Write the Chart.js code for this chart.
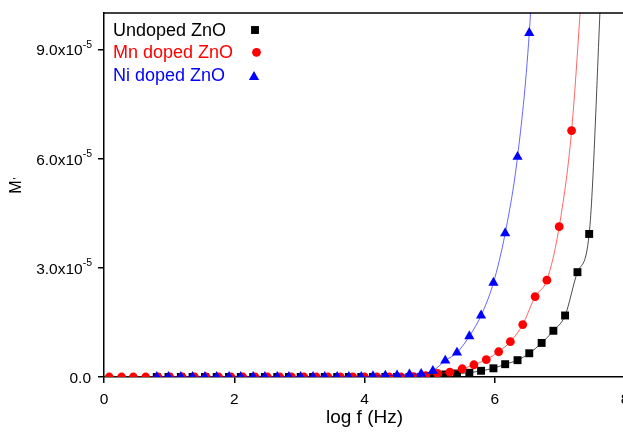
<!DOCTYPE html>
<html>
<head>
<meta charset="utf-8">
<script src="https://cdn.jsdelivr.net/npm/chart.js@4.4.0/dist/chart.umd.min.js"></script>
<style>
  html, body { margin: 0; padding: 0; background: #fff; overflow: hidden; }
  #wrap { width: 640px; height: 433px; }
</style>
</head>
<body>
<div id="wrap"><canvas id="chart" width="640" height="433"></canvas></div>
<script>
const FONT = "'Liberation Sans', Arial, sans-serif";

const seriesNames = ["Undoped ZnO", "Mn doped ZnO", "Ni doped ZnO"];
const markerColors = ["#000000", "#ff0000", "#0000ff"];
const lineColors = ["rgba(0,0,0,0.7)", "rgba(255,0,0,0.6)", "rgba(0,0,255,0.6)"];
const markerStyles = ["rect", "circle", "triangle"];

const xTicks = [0, 2, 4, 6, 8];
const yTicks = [0, 3e-5, 6e-5, 9e-5];

// undoped ZnO
const logfUndoped = [0.81, 0.99, 1.18, 1.36, 1.55, 1.73, 1.92, 2.10, 2.29, 2.47, 2.66, 2.84, 3.02,
  3.21, 3.39, 3.58, 3.76, 3.95, 4.13, 4.32, 4.50, 4.69, 4.87, 5.05, 5.24, 5.42, 5.61, 5.79,
  5.98, 6.16, 6.35, 6.53, 6.72, 6.90, 7.08, 7.27, 7.45, 7.64];
const mUndoped = [0, 0, 0, 0, 0, 0, 0, 0, 0, 0, 0, 0, 0,
  0, 0, 0, 0, 0, 0, 0, 0, 0, 0, 0.30e-6, 0.70e-6, 0.96e-6, 1.16e-6, 1.71e-6,
  2.39e-6, 3.52e-6, 4.62e-6, 6.52e-6, 9.36e-6, 1.27e-5, 1.69e-5, 2.88e-5, 3.93e-5, 1.10e-4];

// Mn doped ZnO
const logfMn = [0.08, 0.27, 0.45, 0.64, 0.83, 1.01, 1.20, 1.39, 1.57, 1.76, 1.95, 2.13, 2.32,
  2.51, 2.70, 2.88, 3.07, 3.26, 3.44, 3.63, 3.82, 4.00, 4.19, 4.38, 4.56, 4.75, 4.94, 5.12,
  5.31, 5.50, 5.68, 5.87, 6.06, 6.24, 6.43, 6.62, 6.80, 6.99, 7.18, 7.37];
const mMn = [0, 0, 0, 0, 0, 0, 0, 0, 0, 0, 0, 0, 0,
  0, 0, 0, 0, 0, 0, 0, 0, 0, 0, 0, 0, 0.10e-6, 0.40e-6, 1.00e-6,
  1.32e-6, 2.26e-6, 3.36e-6, 4.79e-6, 6.94e-6, 9.71e-6, 1.44e-5, 2.21e-5, 2.66e-5, 4.13e-5, 6.77e-5, 1.16e-4];

// Ni doped ZnO
const logfNi = [0.81, 0.99, 1.18, 1.36, 1.55, 1.73, 1.92, 2.10, 2.29, 2.47, 2.66, 2.84, 3.02,
  3.21, 3.39, 3.58, 3.76, 3.95, 4.13, 4.32, 4.50, 4.69, 4.87, 5.05, 5.24, 5.42, 5.61, 5.79,
  5.98, 6.16, 6.35, 6.53, 6.72];
const mNi = [0, 0, 0, 0, 0, 0, 0, 0, 0, 0, 0, 0, 0,
  0, 0, 0, 0, 0, 0.20e-6, 0.39e-6, 0.47e-6, 0.74e-6, 0.88e-6, 1.70e-6, 4.50e-6, 6.70e-6, 1.12e-5, 1.69e-5,
  2.59e-5, 3.95e-5, 6.05e-5, 9.45e-5, 1.60e-4];

const xs = [logfUndoped, logfMn, logfNi];
const ys = [mUndoped, mMn, mNi];
const radii = [5.6, 4.4, 5.9];

function drawMarker(ctx, style, x, y, r, color) {
  ctx.save();
  ctx.fillStyle = color;
  ctx.beginPath();
  if (style === "rect") {
    const s = Math.SQRT1_2 * r;
    ctx.rect(x - s, y - s, 2 * s, 2 * s);
  } else if (style === "circle") {
    ctx.arc(x, y, r, 0, Math.PI * 2);
  } else {
    let a = 0;
    ctx.moveTo(x + Math.sin(a) * r, y - Math.cos(a) * r);
    a += Math.PI * 2 / 3;
    ctx.lineTo(x + Math.sin(a) * r, y - Math.cos(a) * r);
    a += Math.PI * 2 / 3;
    ctx.lineTo(x + Math.sin(a) * r, y - Math.cos(a) * r);
    ctx.closePath();
  }
  ctx.fill();
  ctx.restore();
}

const decorations = {
  id: "decorations",
  afterDraw(chart) {
    const ctx = chart.ctx;
    const area = chart.chartArea;
    const xs_ = chart.scales.x, ys_ = chart.scales.y;
    ctx.save();

    // top frame line
    ctx.strokeStyle = "#000";
    ctx.lineWidth = 1.5;
    ctx.beginPath();
    ctx.moveTo(area.left, area.top);
    ctx.lineTo(area.right + 1, area.top);
    ctx.stroke();

    ctx.fillStyle = "#000";
    // y tick labels with superscript exponent
    yTicks.forEach(v => {
      const y = ys_.getPixelForValue(v);
      ctx.textAlign = "right";
      ctx.textBaseline = "alphabetic";
      if (v === 0) {
        ctx.font = "15.5px " + FONT;
        ctx.fillText("0.0", 91, y + 6);
      } else {
        ctx.font = "10.5px " + FONT;
        const sup = "-5";
        const supW = ctx.measureText(sup).width;
        ctx.fillText(sup, 92, y - 1.5);
        ctx.font = "15.5px " + FONT;
        ctx.fillText((v / 1e-5).toFixed(1) + "x10", 92 - supW, y + 6);
      }
    });

    // x tick labels
    ctx.font = "15.5px " + FONT;
    ctx.textAlign = "center";
    xTicks.forEach(v => {
      ctx.fillText(String(v), xs_.getPixelForValue(v), 403.5);
    });

    // axis titles
    ctx.font = "19px " + FONT;
    ctx.fillText("log f (Hz)", (area.left + 625) / 2, 423);

    ctx.save();
    ctx.translate(20.5, 187);
    ctx.rotate(-Math.PI / 2);
    ctx.font = "16px " + FONT;
    ctx.textAlign = "center";
    ctx.fillText("M", 0, 0);
    ctx.font = "11px " + FONT;
    ctx.textAlign = "left";
    ctx.fillText("'", 7.5, 0);
    ctx.restore();

    // legend
    ctx.font = "18px " + FONT;
    ctx.textAlign = "left";
    const rows = [36, 58, 81];
    const mk = [[255, 30], [256.5, 52.3], [254, 77]];
    seriesNames.forEach((name, i) => {
      ctx.fillStyle = markerColors[i];
      ctx.fillText(name, 113, rows[i]);
      drawMarker(ctx, markerStyles[i], mk[i][0], mk[i][1], radii[i], markerColors[i]);
    });
    ctx.restore();
  }
};

const datasets = seriesNames.map((name, i) => ({
  label: name,
  data: xs[i].map((x, j) => ({ x: x, y: ys[i][j] })),
  borderColor: lineColors[i],
  borderWidth: 1,
  pointStyle: markerStyles[i],
  pointRadius: radii[i],
  pointHoverRadius: radii[i],
  pointBackgroundColor: markerColors[i],
  pointBorderColor: markerColors[i],
  pointBorderWidth: 0,
  cubicInterpolationMode: "monotone",
  fill: false,
  clip: 0,
  order: 3 - i
}));

new Chart(document.getElementById("chart"), {
  type: "line",
  data: { datasets: datasets },
  options: {
    responsive: false,
    animation: false,
    devicePixelRatio: 1,
    layout: { padding: { top: 13, right: 15, left: 0, bottom: 0 } },
    plugins: { legend: { display: false }, tooltip: { enabled: false } },
    scales: {
      x: {
        type: "linear",
        min: 0,
        max: 8,
        afterBuildTicks: s => { s.ticks = xTicks.map(v => ({ value: v })); },
        afterFit: s => { s.height = 56; },
        ticks: { display: false },
        grid: { drawOnChartArea: false, drawTicks: true, tickLength: 6, color: "#000", lineWidth: 1.5 },
        border: { display: true, color: "#000", width: 1.5 }
      },
      y: {
        type: "linear",
        min: 0,
        max: 1e-4,
        afterBuildTicks: s => { s.ticks = yTicks.map(v => ({ value: v })); },
        afterFit: s => { s.width = 104; },
        ticks: { display: false },
        grid: { drawOnChartArea: false, drawTicks: true, tickLength: 6, color: "#000", lineWidth: 1.5 },
        border: { display: true, color: "#000", width: 1.5 }
      }
    }
  },
  plugins: [decorations]
});
</script>
</body>
</html>
